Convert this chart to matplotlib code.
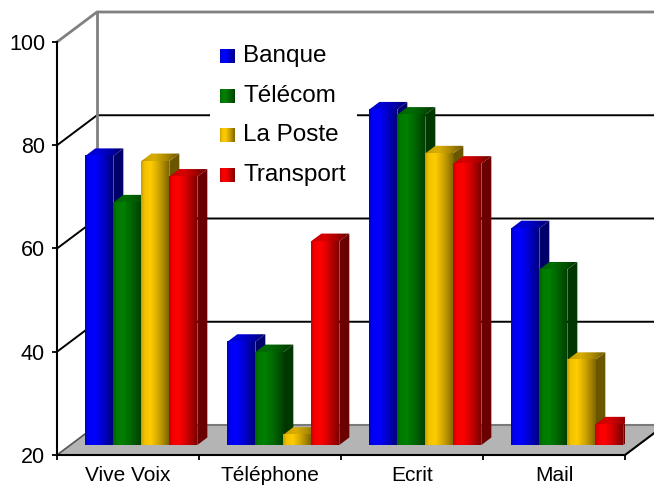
import numpy as np
import matplotlib
matplotlib.use("Agg")
import matplotlib.pyplot as plt
from matplotlib.patches import Polygon, Rectangle
from matplotlib.colors import to_rgb

# ---- data ----
categories = ["Vive Voix", "Téléphone", "Ecrit", "Mail"]
series = ["Banque", "Télécom", "La Poste", "Transport"]
banque = [76, 40, 85, 62]
telecom = [67, 38, 84, 54]
la_poste = [75, 22, 76.5, 36.5]
transport = [72, 59.5, 74.5, 24]
values = [banque, telecom, la_poste, transport]
colors = ["#0000FF", "#008000", "#FFCC00", "#FF0000"]
y_ticks = [20, 40, 60, 80, 100]

plt.rcParams["font.family"] = ["Liberation Sans", "DejaVu Sans"]

W, H = 654, 491
fig = plt.figure(figsize=(W / 100, H / 100), dpi=100)
fig.patch.set_facecolor("white")
ax = fig.add_axes([57 / W, 36 / H, 568 / W, 413 / H])
YMIN, YMAX = y_ticks[0], y_ticks[-1]
NCAT = len(categories)

# depth of the 3-D box expressed in data units (x: categories, y: values)
DX = 40 / 142
DY = 30 / 5.1625

# ---- back wall ----
grey = "#808080"
for v in y_ticks[1:-1]:
    ax.plot([0, DX, NCAT + DX], [v, v + DY, v + DY], color="black", lw=1.4,
            zorder=1, clip_on=False, solid_capstyle="butt")
ax.plot([0, DX, NCAT + DX], [YMAX, YMAX + DY, YMAX + DY], color=grey, lw=2,
        zorder=1, clip_on=False)
ax.plot([DX, DX], [YMIN + DY, YMAX + DY], color=grey, lw=2, zorder=1,
        clip_on=False)

# ---- floor ----
floor = Polygon([(0, YMIN), (NCAT, YMIN), (NCAT + DX, YMIN + DY), (DX, YMIN + DY)],
                closed=True, fc="#B4B4B4", ec="none", zorder=1.2, clip_on=False)
ax.add_patch(floor)
ax.plot([DX, NCAT + DX], [YMIN + DY, YMIN + DY], color="#7A7A7A", lw=1.5,
        zorder=1.3, clip_on=False)
ax.plot([0, DX], [YMIN, YMIN + DY], color="#555555", lw=1.2, zorder=1.3,
        clip_on=False)
ax.plot([NCAT, NCAT + DX], [YMIN, YMIN + DY], color="black", lw=1.5,
        zorder=1.3, clip_on=False)

# ---- shaded bars ----
prof_t = [0.0, 0.12, 0.35, 0.65, 1.0]
prof_f = [0.78, 0.95, 1.0, 0.8, 0.5]


def shade(color, factor=1.0, n=64):
    t = np.linspace(0, 1, n)
    f = np.interp(t, prof_t, prof_f) * factor
    rgb = np.array(to_rgb(color))
    return np.clip(f[:, None] * rgb[None, :], 0, 1)[None, :, :]


FRONT, DEPTH = 1 / 3, 1 / 4
bar_w = 28 / 142
group_off = (1 - len(series) * bar_w) / 2


def draw_bar(x0, v, color, z):
    fx, fy = FRONT * DX, FRONT * DY
    bx, by = (FRONT + DEPTH) * DX, (FRONT + DEPTH) * DY
    rgb = np.array(to_rgb(color))
    side = Polygon([(x0 + bar_w + fx, YMIN + fy), (x0 + bar_w + bx, YMIN + by),
                    (x0 + bar_w + bx, v + by), (x0 + bar_w + fx, v + fy)],
                   closed=True, fc=rgb * 0.42, ec="none", zorder=z)
    ax.add_patch(side)
    top = Polygon([(x0 + fx, v + fy), (x0 + bar_w + fx, v + fy),
                   (x0 + bar_w + bx, v + by), (x0 + bx, v + by)],
                  closed=True, fc="none", ec="none", zorder=z + 0.01)
    ax.add_patch(top)
    im_top = ax.imshow(shade(color, 0.85), extent=(x0 + fx, x0 + bar_w + bx, v + fy, v + by),
                       aspect="auto", interpolation="bilinear", origin="lower",
                       zorder=z + 0.01)
    im_top.set_clip_path(top)
    ax.imshow(shade(color), extent=(x0 + fx, x0 + bar_w + fx, YMIN + fy, v + fy),
              aspect="auto", interpolation="bilinear", origin="lower",
              zorder=z + 0.02)


for ci in range(NCAT):
    for si, (vals, col) in enumerate(zip(values, colors)):
        x0 = ci + group_off + si * bar_w
        draw_bar(x0, vals[ci], col, 3 + ci + si * 0.1)

# ---- legend ----
PX_Y = 5.1625
leg_box = Rectangle(((210 - 57) / 142, YMIN + (455 - 194) / PX_Y),
                    (357 - 210) / 142, (194 - 36) / PX_Y,
                    fc="white", ec="none", zorder=2)
ax.add_patch(leg_box)
sq = 14
for i, (name, col) in enumerate(zip(series, colors)):
    cy = 56 + i * 39.7
    x_l = (220 - 57) / 142
    y_c = YMIN + (455 - cy) / PX_Y
    ax.imshow(shade(col), extent=(x_l, x_l + sq / 142, y_c - sq / 2 / PX_Y, y_c + sq / 2 / PX_Y),
              aspect="auto", interpolation="bilinear", origin="lower", zorder=2.1)
    ax.text((243 - 57) / 142, y_c, name, fontsize=17.5, va="center", ha="left",
            color="black", zorder=2.2)

# ---- axes ----
ax.set_xlim(0, NCAT)
ax.set_ylim(YMIN, YMAX)
ax.set_facecolor("none")
for s in ["top", "right"]:
    ax.spines[s].set_visible(False)
for s in ["left", "bottom"]:
    ax.spines[s].set_linewidth(1.5)
    ax.spines[s].set_zorder(2.5)

ax.set_yticks(y_ticks)
ax.set_yticklabels([str(t) for t in y_ticks])
ax.tick_params(axis="y", direction="out", length=3.6, width=1.3, pad=5,
               labelsize=15.5)
ax.set_xticks(np.arange(NCAT + 1))
ax.set_xticklabels([])
ax.set_xticks(np.arange(NCAT) + 0.5, minor=True)
ax.set_xticklabels(categories, minor=True)
ax.tick_params(axis="x", which="major", direction="out", length=3.6, width=1.3)
ax.tick_params(axis="x", which="minor", length=0, pad=8, labelsize=15)

fig.savefig("out.png", dpi=100, facecolor="white")
